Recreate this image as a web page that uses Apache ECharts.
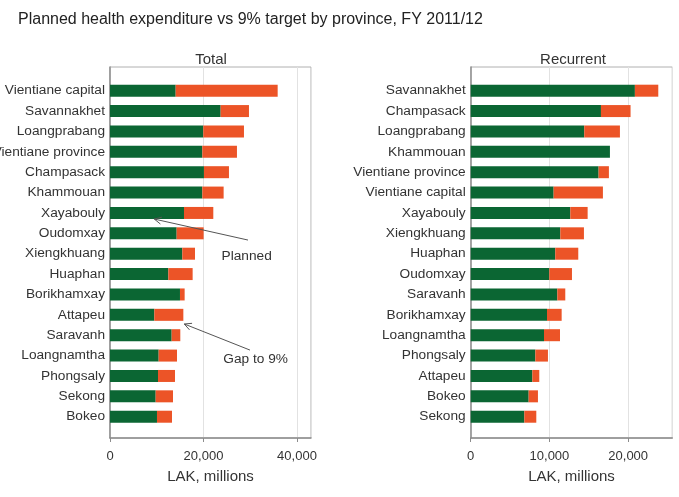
<!DOCTYPE html>
<html>
<head>
<meta charset="utf-8">
<script src="https://cdn.jsdelivr.net/npm/echarts@6/dist/echarts.min.js"></script>
<style>
html,body{margin:0;padding:0;background:#fff;}
#chart{width:679px;height:497px;}
</style>
</head>
<body>
<div id="chart"></div>
<script>
// ---- Data ----
var totalProvinces = ['Vientiane capital','Savannakhet','Loangprabang','Vientiane province','Champasack','Khammouan','Xayabouly','Oudomxay','Xiengkhuang','Huaphan','Borikhamxay','Attapeu','Saravanh','Loangnamtha','Phongsaly','Sekong','Bokeo'];
var totalPlanned = [14050,23670,19960,19750,20100,19750,15830,14260,15470,12480,14970,9480,13190,10410,10270,9770,10050];
var totalGap     = [21820,6060,8700,7410,5350,4560,6270,5770,2710,5200,1000,6210,1850,3920,3630,3710,3210];

var recProvinces = ['Savannakhet','Champasack','Loangprabang','Khammouan','Vientiane province','Vientiane capital','Xayabouly','Xiengkhuang','Huaphan','Oudomxay','Saravanh','Borikhamxay','Loangnamtha','Phongsaly','Attapeu','Bokeo','Sekong'];
var recPlanned = [20850,16540,14420,17680,16240,10530,12650,11380,10740,9980,11000,9690,9310,8210,7830,7360,6810];
var recGap     = [2970,3760,4530,0,1310,6260,2200,3000,2920,2880,1010,1860,2030,1600,880,1180,1520];

// annotations: [x value, category position] in the Total panel
var annPlanned = {text:'Planned', tip:[9480,6.3], tail:[29520,7.33], label:[29240,8.14]};
var annGap = {text:'Gap to 9%', tip:[15890,11.45], tail:[29950,12.73], label:[31170,13.17]};

// ---- Styles ----
var GREEN = '#0b6633';
var ORANGE = '#ec5427';
var TXT = '#333333';
var FONT = 'Liberation Sans, Arial, sans-serif';

var chart = echarts.init(document.getElementById('chart'), null, {renderer:'canvas'});

function fmt(v){ return v.toLocaleString('en-US'); }

var frameTop = 67, frameH = 371;
var barTop = 80.5, barH = 346.4;
var L = {left:110, width:201};
var R = {left:470.7, width:201.6};

function frameX(max, idx){
  return {
    type:'value', gridIndex:idx, min:0, max:max, interval: max>30000?20000:10000,
    axisLine:{show:true, lineStyle:{color:'#8c8c8c', width:1.5}},
    axisTick:{show:true, length:4, lineStyle:{color:'#8c8c8c'}},
    axisLabel:{show:true, color:TXT, fontSize:13, fontFamily:FONT, margin:12,
      formatter:function(v){return fmt(v);}, showMaxLabel:false},
    splitLine:{show:true, lineStyle:{color:'#e2e2e2', width:1}},
    name:'LAK, millions', nameLocation:'middle', nameGap:31,
    nameTextStyle:{color:TXT, fontSize:15, fontFamily:FONT}
  };
}
function barX(max, idx){
  return {type:'value', gridIndex:idx, min:0, max:max, show:false, splitLine:{show:false}};
}
function frameY(idx){
  return {type:'category', gridIndex:idx, data:['a'],
    axisLine:{show:true, lineStyle:{color:'#8c8c8c', width:1.5}},
    axisTick:{show:false}, axisLabel:{show:false}, splitLine:{show:false}};
}
function barY(cats, idx){
  return {type:'category', gridIndex:idx, data:cats, inverse:true,
    axisLine:{show:false}, axisTick:{show:false},
    axisLabel:{show:true, color:TXT, fontSize:13.7, fontFamily:FONT, margin:5}};
}
function grid(pos, top, h, frame){
  return {left:pos.left, width:pos.width, top:top, height:h, show:frame,
    borderColor:'#b0b0b0', borderWidth:1, containLabel:false, outerBoundsMode:'none'};
}

var option = {
  animation:false,
  backgroundColor:'#ffffff',
  title:[
    {text:'Planned health expenditure vs 9% target by province, FY 2011/12', left:13, top:7,
     textStyle:{color:'#222', fontSize:16, fontWeight:'normal', fontFamily:FONT}},
    {text:'Total', left:206, top:47, textAlign:'center',
     textStyle:{color:TXT, fontSize:15, fontWeight:'normal', fontFamily:FONT}},
    {text:'Recurrent', left:568, top:47, textAlign:'center',
     textStyle:{color:TXT, fontSize:15, fontWeight:'normal', fontFamily:FONT}}
  ],
  grid:[grid(L,frameTop,frameH,true), grid(L,barTop,barH,false), grid(R,frameTop,frameH,true), grid(R,barTop,barH,false)],
  xAxis:[frameX(43000,0), barX(43000,1), frameX(25600,2), barX(25600,3)],
  yAxis:[frameY(0), barY(totalProvinces,1), frameY(2), barY(recProvinces,3)],
  series:[
    {type:'bar', name:'Planned', xAxisIndex:1, yAxisIndex:1, stack:'t', data:totalPlanned, barWidth:12, itemStyle:{color:GREEN}},
    {type:'bar', name:'Gap to 9%', xAxisIndex:1, yAxisIndex:1, stack:'t', data:totalGap, barWidth:12, itemStyle:{color:ORANGE}},
    {type:'bar', name:'Planned', xAxisIndex:3, yAxisIndex:3, stack:'r', data:recPlanned, barWidth:12, itemStyle:{color:GREEN}},
    {type:'bar', name:'Gap to 9%', xAxisIndex:3, yAxisIndex:3, stack:'r', data:recGap, barWidth:12, itemStyle:{color:ORANGE}}
  ]
};
chart.setOption(option);

// convert [value, fractional category index] to pixels by interpolating between bands
function px(p){
  var i0 = Math.floor(p[1]), f = p[1]-i0;
  var a = chart.convertToPixel({xAxisIndex:1, yAxisIndex:1}, [p[0], i0]);
  var b = chart.convertToPixel({xAxisIndex:1, yAxisIndex:1}, [p[0], i0+1]);
  return [a[0], a[1] + (b[1]-a[1])*f];
}
function arrowGraphics(a){
  var tip = px(a.tip), tail = px(a.tail), lab = px(a.label);
  var dx = tail[0]-tip[0], dy = tail[1]-tip[1];
  var len = Math.sqrt(dx*dx+dy*dy); var ux = dx/len, uy = dy/len;
  var hl = 7, hw = 3.5;
  var bx = tip[0]+ux*hl, by = tip[1]+uy*hl;
  var p1 = [bx - uy*hw, by + ux*hw], p2 = [bx + uy*hw, by - ux*hw];
  return [
    {type:'line', shape:{x1:tip[0], y1:tip[1], x2:tail[0], y2:tail[1]}, style:{stroke:'#555', lineWidth:1}, z:100},
    {type:'polyline', shape:{points:[p1, tip, p2]}, style:{stroke:'#555', lineWidth:1, fill:null}, z:100},
    {type:'text', x:lab[0], y:lab[1], style:{text:a.text, fill:TXT, font:'13.7px ' + FONT, align:'center', verticalAlign:'middle'}, z:100}
  ];
}
chart.setOption({graphic:{elements:arrowGraphics(annPlanned).concat(arrowGraphics(annGap))}});
</script>
</body>
</html>
